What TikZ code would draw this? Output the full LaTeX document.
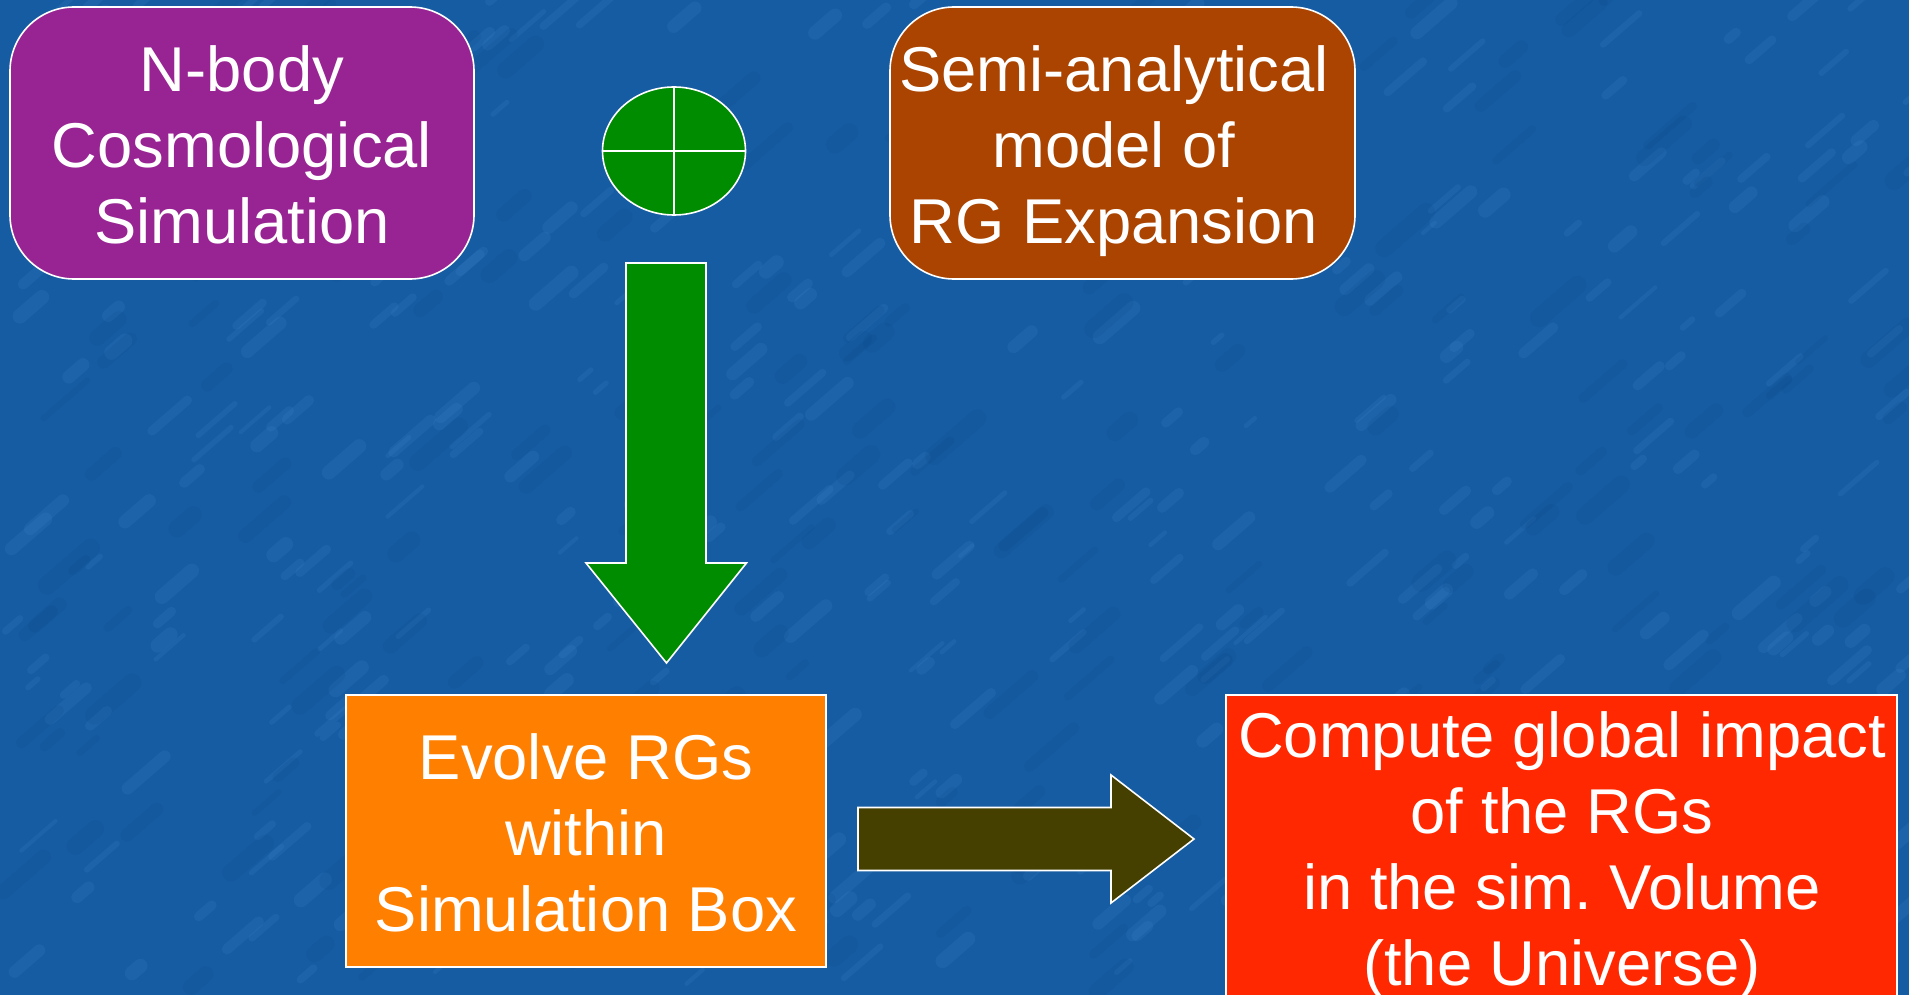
\documentclass[tikz,border=0pt]{standalone}
\usepackage{fontspec}
\setmainfont{Liberation Sans}
\usetikzlibrary{shapes.geometric}
\frenchspacing

\definecolor{slideblue}{RGB}{22,92,162}
\definecolor{streakblue}{RGB}{70,140,210}
\definecolor{deepblue}{RGB}{10,70,135}
\definecolor{nbodypurple}{RGB}{152,35,146}
\definecolor{modelbrown}{RGB}{170,68,0}
\definecolor{stepgreen}{RGB}{0,140,0}
\definecolor{evolveorange}{RGB}{255,127,0}
\definecolor{arrowolive}{RGB}{69,63,0}
\definecolor{impactred}{RGB}{255,40,0}

\begin{document}
\begin{tikzpicture}[x=0.75pt,y=0.75pt,yscale=-1,xscale=1,
    roundbox/.style={draw=white,line width=1.2pt,rounded corners=48pt,
        minimum width=348pt,minimum height=204pt,inner sep=0pt},
    squarebox/.style={draw=white,line width=1.2pt,inner sep=0pt},
    caption/.style={text=white,align=center,anchor=base,inner sep=0pt,
        font=\fontsize{47.5}{57}\selectfont},
    blockarrow/.style={draw=white,line width=1.2pt}]

% background
\useasboundingbox (0,0) rectangle (1909,995);
\fill[slideblue] (0,0) rectangle (1909,995);
\pgfmathsetseed{4242}
\foreach \k in {1,...,380}{
    \pgfmathsetmacro{\px}{rnd*1909}
    \pgfmathsetmacro{\py}{rnd*995}
    \pgfmathsetmacro{\len}{10+rnd*40}
    \pgfmathsetmacro{\wd}{3+rnd*8}
    \draw[streakblue,opacity=0.15,line width=\wd pt,line cap=round]
        (\px,\py) -- ++(\len*0.75,-\len*0.65);
}
\foreach \k in {1,...,220}{
    \pgfmathsetmacro{\px}{rnd*1909}
    \pgfmathsetmacro{\py}{rnd*995}
    \pgfmathsetmacro{\len}{15+rnd*45}
    \pgfmathsetmacro{\wd}{4+rnd*10}
    \draw[deepblue,opacity=0.15,line width=\wd pt,line cap=round]
        (\px,\py) -- ++(\len*0.75,-\len*0.65);
}

% top row
\node[roundbox,fill=nbodypurple] (nbody) at (242,143) {};
\node[caption] (nbodytext) at (242,243) {N-body\\Cosmological\\Simulation};

\node[roundbox,fill=modelbrown,minimum width=348.75pt] (model) at (1122.5,143) {};
\node[caption] (modeltext) at (1114,243) {Semi-analytical\\model of\\RG Expansion};

\node[ellipse,draw=white,line width=1.2pt,fill=stepgreen,inner sep=0pt,
    minimum width=107.25pt,minimum height=96pt] (plus) at (674,151) {};
\draw[white,line width=1.2pt] (plus.west) -- (plus.east) (plus.north) -- (plus.south);

% down arrow
\draw[blockarrow,fill=stepgreen] (626,263) -- (706,263) -- (706,563) -- (746.5,563)
    -- (666.5,663) -- (586,563) -- (626,563) -- cycle;

% bottom row
\node[squarebox,fill=evolveorange,minimum width=360pt,minimum height=204pt] (evolve) at (586,831) {};
\node[caption] (evolvetext) at (586,931) {Evolve RGs\\within\\Simulation Box};

\draw[blockarrow,fill=arrowolive] (858,807.5) -- (1111,807.5) -- (1111,775) -- (1194,839)
    -- (1111,903) -- (1111,870.5) -- (858,870.5) -- cycle;

\node[squarebox,fill=impactred,minimum width=503.25pt,minimum height=240pt] (impact) at (1561.5,855) {};
\node[caption] (impacttext) at (1562,985) {Compute global impact\\of the RGs\\in the sim. Volume\\(the Universe)};

\end{tikzpicture}
\end{document}
